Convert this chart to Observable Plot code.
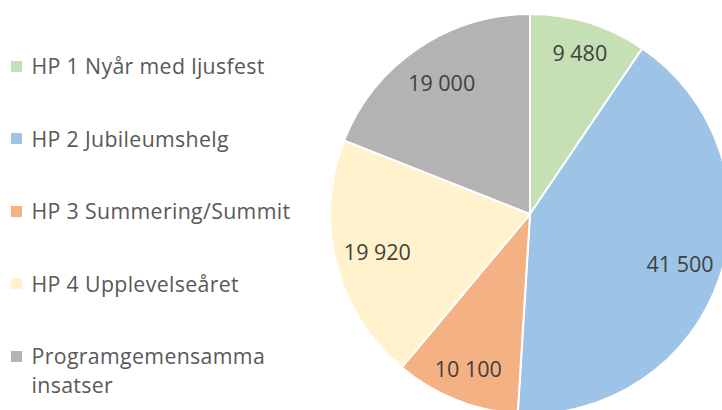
<!DOCTYPE html>
<html>
<head>
<meta charset="utf-8">
<script src="https://cdn.jsdelivr.net/npm/d3@7"></script>
<script src="https://cdn.jsdelivr.net/npm/@observablehq/plot@0.6"></script>
<style>
  html, body { margin: 0; padding: 0; background: #fff; }
  #wrap { position: relative; width: 722px; height: 410px; overflow: hidden; }
  #legend { position: absolute; left: 0; top: 0; font-family: "Open Sans", sans-serif; font-size: 21.3px; letter-spacing: 0.35px; color: #595959; }
  .item { position: absolute; left: 11px; display: flex; align-items: flex-start; line-height: 29px; width: 320px; }
  .sw { width: 11px; height: 11px; margin-top: 9.5px; margin-right: 9.5px; flex: none; }
  .lbl { width: 285px; }
</style>
</head>
<body>
<div id="wrap">
  <div id="chart"></div>
  <div id="legend"></div>
</div>
<script>
const categories = ["HP 1 Nyår med ljusfest", "HP 2 Jubileumshelg", "HP 3 Summering/Summit", "HP 4 Upplevelseåret", "Programgemensamma insatser"];
const values = [9480, 41500, 10100, 19920, 19000];
const valueLabels = ["9 480", "41 500", "10 100", "19 920", "19 000"];
const colors = ["#C5E0B4", "#9DC3E6", "#F4B183", "#FFF2CC", "#B3B3B3"];

const data = categories.map((c, i) => ({category: c, value: values[i], label: valueLabels[i], color: colors[i]}));
const arcs = d3.pie().sort(null).value(d => d.value)(data);
const total = d3.sum(values);
const labelData = arcs.map(a => {
  const mid = (a.startAngle + a.endAngle) / 2;
  const k = a.data.value / total < 0.15 ? 0.84 : 0.79;
  return {x: Math.sin(mid) * k, y: Math.cos(mid) * k, label: a.data.label};
});

function pieMark(index, scales) {
  const cx = scales.x(0), cy = scales.y(0);
  const r = scales.x(1) - scales.x(0);
  const arc = d3.arc().innerRadius(0).outerRadius(r);
  const g = d3.create("svg:g").attr("transform", `translate(${cx},${cy})`);
  g.selectAll("path").data(arcs).join("path")
    .attr("d", arc)
    .attr("fill", d => d.data.color)
    .attr("stroke", "#fff")
    .attr("stroke-width", 2)
    .attr("stroke-linejoin", "round");
  return g.node();
}

const chart = Plot.plot({
  width: 722,
  height: 410,
  margin: 0,
  x: {domain: [-1, 1], range: [330, 730], axis: null},
  y: {domain: [-1, 1], range: [414, 14], axis: null},
  style: {background: "transparent", overflow: "visible"},
  marks: [
    pieMark,
    Plot.text(labelData, {x: "x", y: "y", text: "label", fill: "#404040", fontSize: 21.5, fontFamily: "Open Sans", textAnchor: "middle"})
  ]
});
document.getElementById("chart").appendChild(chart);

const legend = document.getElementById("legend");
categories.forEach((c, i) => {
  const item = document.createElement("div");
  item.className = "item";
  item.style.top = (65.5 + i * 72.6 - 14.5) + "px";
  const sw = document.createElement("div");
  sw.className = "sw";
  sw.style.background = colors[i];
  const lbl = document.createElement("div");
  lbl.className = "lbl";
  lbl.textContent = c;
  item.appendChild(sw);
  item.appendChild(lbl);
  legend.appendChild(item);
});
</script>
</body>
</html>
